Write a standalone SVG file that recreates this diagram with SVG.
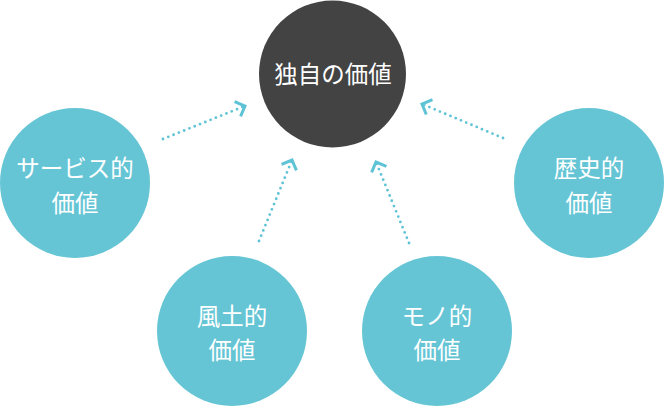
<svg xmlns="http://www.w3.org/2000/svg" width="664" height="406" viewBox="0 0 664 406">
<style>
.c{fill:#65c5d5}
.d{fill:#434343}
.t{fill:#ffffff;font-family:"Noto Sans CJK JP","Noto Sans",sans-serif;font-size:23.5px;text-anchor:middle}
.l{fill:none;stroke:#5fc3d6;stroke-width:2.8;stroke-linecap:round;stroke-dasharray:0 5.7}
</style>
<defs>
<marker id="ah" markerUnits="userSpaceOnUse" markerWidth="20" markerHeight="20" viewBox="-12 -10 14 20" refX="0" refY="0" orient="auto">
<path d="M-8,-8 L0,0 L-8,8" fill="none" stroke="#5fc3d6" stroke-width="3"/>
</marker>
</defs>
<g id="connectors">
<path class="l" d="M163,139 L245,106" marker-end="url(#ah)"/>
<path class="l" d="M259,241 L292,160" marker-end="url(#ah)"/>
<path class="l" d="M409,243 L376,162" marker-end="url(#ah)"/>
<path class="l" d="M503,138 L422,104" marker-end="url(#ah)"/>
</g>
<g id="center">
<circle class="d" cx="332.5" cy="74" r="73.5"/>
<text class="t" x="333" y="83" font-size="24">独自の価値</text>
</g>
<g id="service">
<circle class="c" cx="75" cy="183" r="75"/>
<text class="t" x="75" y="177">サービス的</text>
<text class="t" x="75" y="212">価値</text>
</g>
<g id="history">
<circle class="c" cx="589" cy="183" r="75"/>
<text class="t" x="589" y="177">歴史的</text>
<text class="t" x="589" y="212">価値</text>
</g>
<g id="fudo">
<circle class="c" cx="232" cy="331" r="75"/>
<text class="t" x="232" y="325">風土的</text>
<text class="t" x="232" y="359">価値</text>
</g>
<g id="mono">
<circle class="c" cx="437" cy="331" r="75"/>
<text class="t" x="437" y="325">モノ的</text>
<text class="t" x="437" y="359">価値</text>
</g>
</svg>
